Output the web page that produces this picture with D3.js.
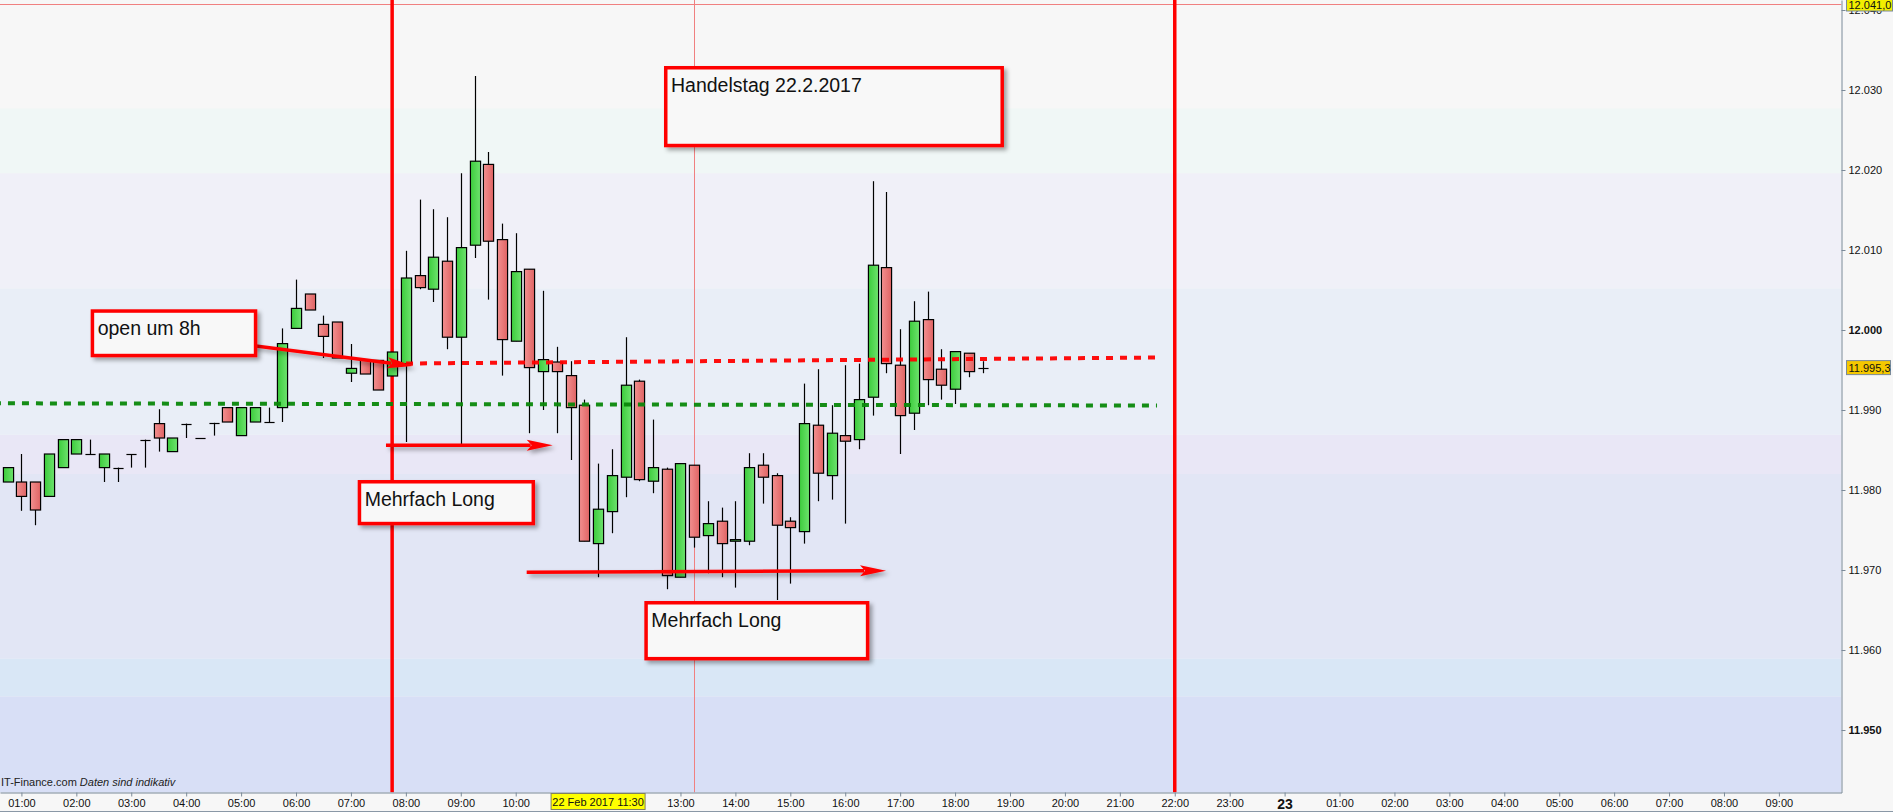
<!DOCTYPE html>
<html><head><meta charset="utf-8">
<script src="https://cdn.jsdelivr.net/npm/d3@7"></script>
<style>
html,body{margin:0;padding:0;background:#f7f7f7;overflow:hidden}
svg{display:block;font-family:"Liberation Sans",Arial,sans-serif}
</style></head><body>
<svg id="c" width="1893" height="812"></svg>
<script>
// ---- DATA ----
const times = ["00:45","01:00","01:15","01:30","01:45","02:00","02:15","02:30","02:45","03:00","03:15","03:30","03:45","04:00","04:15","04:30","04:45","05:00","05:15","05:30","05:45","06:00","06:15","06:30","06:45","07:00","07:15","07:30","07:45","08:00","08:15","08:30","08:45","09:00","09:15","09:30","09:45","10:00","10:15","10:30","10:45","11:00","11:15","11:30","11:45","12:00","12:15","12:30","12:45","13:00","13:15","13:30","13:45","14:00","14:15","14:30","14:45","15:00","15:15","15:30","15:45","16:00","16:15","16:30","16:45","17:00","17:15","17:30","17:45","18:00","18:15","18:30"];
const opens  = [11981.0,11981.0,11981.0,11979.2,11982.8,11984.5,11984.5,11982.8,11982.8,11984.5,11986.3,11988.3,11984.8,11988.3,11986.5,11988.4,11990.3,11986.8,11988.5,11988.5,11990.3,12000.2,12004.5,12000.7,12001.0,11994.6,11996.2,11996.2,11994.25,11995.8,12006.8,12005.1,12008.6,11999.1,12010.6,12020.7,12011.3,11998.6,12007.6,11994.8,11996.0,11994.3,11990.6,11973.3,11977.3,11981.6,11993.6,11981.1,11982.6,11969.1,11983.1,11974.3,11976.1,11973.6,11973.6,11983.1,11981.8,11976.1,11974.8,11988.1,11981.8,11986.8,11986.3,11991.6,12007.8,11995.6,11989.6,12001.3,11995.1,11992.6,11997.1,11995.3];
const highs  = [11982.8,11984.5,11981.0,11984.5,11986.3,11986.3,11986.3,11984.5,11982.8,11984.5,11986.3,11990.1,11986.5,11988.3,11986.5,11988.4,11990.3,11990.3,11990.3,11990.3,12000.2,12006.3,12004.5,12001.8,12001.0,11998.25,11996.2,11996.2,11997.25,12009.9,12016.3,12015.1,12014.1,12019.6,12031.75,12022.25,12013.3,12012.1,12007.6,12004.9,11997.9,11996.1,11991.3,11983.3,11985.1,11999.1,11993.8,11988.8,11982.8,11983.3,11983.1,11978.6,11977.8,11978.6,11984.6,11984.6,11982.1,11976.6,11993.3,11995.1,11990.6,11995.6,11995.8,12018.6,12017.25,12000.1,12003.6,12004.8,11997.6,11997.3,11997.1,11996.1];
const lows   = [11981.0,11977.4,11975.6,11979.2,11982.8,11984.5,11984.5,11981.0,11981.0,11982.8,11982.8,11984.8,11984.8,11986.5,11986.5,11986.8,11988.5,11986.8,11988.5,11988.5,11988.5,12000.2,12002.5,11996.5,11996.5,11993.5,11994.5,11992.5,11994.25,11986.0,12005.1,12003.5,11997.6,11985.7,12009.0,12003.8,11994.3,11998.6,11987.1,11990.0,11987.1,11983.75,11973.6,11969.1,11974.6,11979.1,11981.1,11979.6,11967.6,11969.1,11972.8,11969.6,11969.1,11967.8,11973.1,11978.3,11966.25,11968.3,11973.3,11978.6,11978.8,11975.8,11985.1,11989.3,11994.6,11984.5,11987.5,11990.6,11991.3,11990.75,11994.1,11994.6];
const closes = [11982.8,11979.2,11977.5,11984.5,11986.3,11986.3,11984.5,11984.5,11982.8,11984.5,11986.3,11986.5,11986.5,11988.3,11986.5,11988.4,11988.5,11990.3,11990.3,11988.5,11998.3,12002.7,12002.5,11999.2,11996.5,11995.2,11994.5,11992.5,11997.25,12006.5,12005.3,12009.1,11999.1,12010.3,12021.1,12011.1,11998.8,12007.3,11995.3,11996.3,11994.8,11990.3,11973.6,11977.6,11981.8,11993.1,11981.3,11982.8,11969.3,11983.3,11974.1,11975.8,11973.3,11973.8,11982.8,11981.6,11975.6,11975.3,11988.3,11982.1,11987.1,11986.1,11991.3,12008.1,11995.8,11989.3,12001.1,11993.8,11993.1,11997.3,11994.8,11995.3];

const xTickHours  = [1,2,3,4,5,6,7,8,9,10,11,12,13,14,15,16,17,18,19,20,21,22,23,24,25,26,27,28,29,30,31,32,33];
const xTickLabels = ["01:00","02:00","03:00","04:00","05:00","06:00","07:00","08:00","09:00","10:00","11:00","12:00","13:00","14:00","15:00","16:00","17:00","18:00","19:00","20:00","21:00","22:00","23:00","23","01:00","02:00","03:00","04:00","05:00","06:00","07:00","08:00","09:00"];
const yTicks      = [11950,11960,11970,11980,11990,12000,12010,12020,12030,12040];
const yTickLabels = ["11.950","11.960","11.970","11.980","11.990","12.000","12.010","12.020","12.030","12.040"];
const yBoldTicks  = [11950,12000];

// background bands (price from, price to, colour)
const bandTops    = [12041.3,12027.7,12019.6,12005.2,11986.9,11982.0,11958.9,11954.2];
const bandBottoms = [12027.7,12019.6,12005.2,11986.9,11982.0,11958.9,11954.2,11942.0];
const bandColors  = ["#f7f7f7","#f0f7f6","#f0f0f8","#e9eef7","#e9e7f6","#e2e6f5","#d9e7f6","#d8dff6"];

// annotations (hours, prices)
const redVLines   = [7.75, 22];
const crossHour   = 13.25;
const crossPrice  = 12040.8;
const crossTimeLabel = "22 Feb 2017 11:30";
const crossTimeHour  = 11.5;
const crossPriceLabel = "12.041,0";
const lastPriceLabel  = "11.995,3";
const redDotted   = [[7.748,11995.8],[21.677,11996.56]];
const greenDotted = [[0.5,11990.84],[21.677,11990.56]];
const arrows = [
  [[4.798,11998.41],[8.135,11995.5]],
  [[7.638,11985.59],[10.674,11985.59]],
  [[10.2,11969.71],[16.743,11969.91]]
];
const boxTexts = ["Handelstag 22.2.2017","open um 8h","Mehrfach Long","Mehrfach Long"];
const boxH0 = [12.70, 2.261, 7.123, 12.342];
const boxH1 = [18.89, 5.295, 10.352, 16.439];
const boxV0 = [12033.0, 12002.59, 11981.25, 11966.125];
const boxV1 = [12022.84, 11996.59, 11975.59, 11958.7];

// ---- CHART ----
const W = 1893, H = 812, plotR = 1841.5, plotB = 792.5;
const svg = d3.select("#c");
const x = d3.scaleLinear().domain([0.61, 34.14]).range([0, plotR]);
const y = d3.scaleLinear().domain([11942.19, 12041.25]).range([plotB, 0]);
const hrs = times.map(t => { const [a,b] = t.split(":").map(Number); return a + b/60; });

const defs = svg.append("defs");
defs.append("clipPath").attr("id","clip").append("rect").attr("x",0).attr("y",0).attr("width",plotR).attr("height",plotB);
const f = defs.append("filter").attr("id","sh").attr("x","-20%").attr("y","-30%").attr("width","150%").attr("height","180%");
f.append("feDropShadow").attr("dx",3).attr("dy",3).attr("stdDeviation",2).attr("flood-color","#000").attr("flood-opacity",0.35);
const gG = defs.append("linearGradient").attr("id","gGreen").attr("x1","0").attr("x2","1").attr("y1","0").attr("y2","0");
gG.append("stop").attr("offset","0").attr("stop-color","#3ccc3c");
gG.append("stop").attr("offset","1").attr("stop-color","#6ee36e");
const gR = defs.append("linearGradient").attr("id","gRed").attr("x1","0").attr("x2","1").attr("y1","0").attr("y2","0");
gR.append("stop").attr("offset","0").attr("stop-color","#f29090");
gR.append("stop").attr("offset","1").attr("stop-color","#e06464");

svg.append("rect").attr("width",W).attr("height",H).attr("fill","#f7f7f7");

const plot = svg.append("g").attr("clip-path","url(#clip)");
plot.selectAll("rect.band").data(bandColors).join("rect").attr("class","band")
  .attr("x",0).attr("width",plotR)
  .attr("y",(d,i)=>y(bandTops[i])).attr("height",(d,i)=>y(bandBottoms[i])-y(bandTops[i]))
  .attr("fill",d=>d);

// watermark
const wm = plot.append("text").attr("x",1).attr("y",786).attr("font-size",11).attr("fill","#222");
wm.append("tspan").text("IT-Finance.com  ");
wm.append("tspan").attr("font-style","italic").text("Daten sind indikativ");

// crosshair
plot.append("line").attr("x1",0).attr("x2",plotR).attr("y1",Math.round(y(crossPrice))+0.5).attr("y2",Math.round(y(crossPrice))+0.5).attr("stroke","#f08080").attr("stroke-width",1);
plot.append("line").attr("x1",Math.round(x(crossHour))+0.5).attr("x2",Math.round(x(crossHour))+0.5).attr("y1",0).attr("y2",plotB).attr("stroke","#f08080").attr("stroke-width",1);

// red vertical lines
plot.selectAll("line.rv").data(redVLines).join("line").attr("class","rv")
  .attr("x1",d=>x(d)).attr("x2",d=>x(d)).attr("y1",0).attr("y2",plotB)
  .attr("stroke","#ff0000").attr("stroke-width",3.5);

// candles
const bw = (x(0.25)-x(0))*0.74;
const cg = plot.append("g");
hrs.forEach((h,i)=>{
  const cx = Math.round(x(h))+0.5;
  const o = opens[i], c = closes[i];
  cg.append("line").attr("x1",cx).attr("x2",cx).attr("y1",y(highs[i])).attr("y2",y(lows[i])).attr("stroke","#000").attr("stroke-width",1.2);
  if (Math.abs(o-c) < 0.05) {
    const yy = Math.round(y(o))+0.5;
    cg.append("line").attr("x1",cx-bw/2).attr("x2",cx+bw/2).attr("y1",yy).attr("y2",yy).attr("stroke","#000").attr("stroke-width",1.2);
  } else {
    const t = y(Math.max(o,c)), b = y(Math.min(o,c));
    cg.append("rect").attr("x",cx-bw/2).attr("y",t).attr("width",bw).attr("height",Math.max(1,b-t))
      .attr("fill", c>o ? "url(#gGreen)" : "url(#gRed)").attr("stroke","#000").attr("stroke-width",1.2);
  }
});

// dotted lines
const ln = d3.line().x(d=>x(d[0])).y(d=>y(d[1]));
plot.append("path").attr("d",ln(greenDotted)).attr("fill","none").attr("stroke","#0a870a").attr("stroke-width",4).attr("stroke-dasharray","7,7").attr("opacity",0.95);
plot.append("path").attr("d",ln(redDotted)).attr("fill","none").attr("stroke","#ff0000").attr("stroke-width",4).attr("stroke-dasharray","7,7").attr("opacity",0.95);

// arrows
const ag = plot.append("g").attr("filter","url(#sh)");
arrows.forEach(a=>{
  const p0=[x(a[0][0]),y(a[0][1])], p1=[x(a[1][0]),y(a[1][1])];
  const dx=p1[0]-p0[0], dy=p1[1]-p0[1], L=Math.hypot(dx,dy), ux=dx/L, uy=dy/L, nx=-uy, ny=ux;
  const hl=26, hw=5.5;
  const bx=p1[0]-ux*hl, by=p1[1]-uy*hl;
  ag.append("line").attr("x1",p0[0]).attr("y1",p0[1]).attr("x2",bx+ux*4).attr("y2",by+uy*4).attr("stroke","#ff0000").attr("stroke-width",3.5);
  ag.append("path").attr("d",`M${p1[0]},${p1[1]}L${bx+nx*hw},${by+ny*hw}L${bx+ux*5},${by+uy*5}L${bx-nx*hw},${by-ny*hw}Z`).attr("fill","#ff0000");
});

// text boxes
boxTexts.forEach((t,i)=>{
  const x0=x(boxH0[i]), x1=x(boxH1[i]), y0=y(boxV0[i]), y1=y(boxV1[i]);
  plot.append("rect").attr("x",x0+1.75).attr("y",y0+1.75).attr("width",x1-x0-3.5).attr("height",y1-y0-3.5)
    .attr("fill","#f8f8f8").attr("stroke","#ff0000").attr("stroke-width",3.5).attr("filter","url(#sh)");
  plot.append("text").attr("x",x0+7).attr("y",y0+25.5).attr("font-size",19.5).attr("fill","#111").text(t);
});

// crosshair time label geometry (hides tick labels it covers)
const ctx = x(crossTimeHour), ctW = 94;

// axes
const xAxis = d3.axisBottom(x).tickValues(xTickHours).tickFormat((d,i)=>xTickLabels[i]).tickSize(4).tickPadding(3).tickSizeOuter(0);
const gx = svg.append("g").attr("transform",`translate(0,${plotB})`).call(xAxis);
gx.select(".domain").attr("stroke","#7b8a99");
gx.selectAll(".tick line").attr("stroke","#7b8a99");
gx.selectAll(".tick text").attr("font-size",11).attr("fill","#111").attr("font-family","'Liberation Sans',Arial,sans-serif")
  .filter((d,i)=>xTickLabels[i]==="23").attr("font-size",14).attr("font-weight","bold").attr("dy","0.65em");
gx.selectAll(".tick").filter(d=>Math.abs(x(d)-ctx) < ctW/2 + 14).remove();

const yAxis = d3.axisRight(y).tickValues(yTicks).tickFormat((d,i)=>yTickLabels[i]).tickSize(4).tickPadding(3).tickSizeOuter(0);
const gy = svg.append("g").attr("transform",`translate(${plotR},0)`).call(yAxis);
gy.select(".domain").attr("stroke","#7b8a99");
gy.selectAll(".tick line").attr("stroke","#7b8a99");
gy.selectAll(".tick text").attr("font-size",11).attr("fill","#111").attr("font-family","'Liberation Sans',Arial,sans-serif")
  .attr("font-weight",d=>yBoldTicks.includes(d)?"bold":"normal");

svg.append("line").attr("x1",0).attr("x2",W).attr("y1",811.5).attr("y2",811.5).attr("stroke","#8a98a6");

// crosshair labels
svg.append("rect").attr("x",ctx-ctW/2).attr("y",793.5).attr("width",ctW).attr("height",16).attr("fill","#ffff00").attr("stroke","#808060");
svg.append("text").attr("x",ctx).attr("y",806).attr("text-anchor","middle").attr("font-size",11).attr("fill","#111").text(crossTimeLabel);

const cpy = Math.max(-1, y(crossPrice)-7);
svg.append("rect").attr("x",1846.5).attr("y",cpy).attr("width",46).attr("height",12).attr("fill","#f2ee00").attr("stroke","#7b8a99");
svg.append("text").attr("x",1848.5).attr("y",cpy+10).attr("font-size",11).attr("fill","#111").text(crossPriceLabel);

const lpy = y(closes[closes.length-1]);
svg.append("rect").attr("x",1846.5).attr("y",lpy-7).attr("width",44).attr("height",14).attr("fill","#f5c800").attr("stroke","#7b8a99");
svg.append("text").attr("x",1848.5).attr("y",lpy+4).attr("font-size",11).attr("fill","#111").text(lastPriceLabel);
</script>
</body></html>
